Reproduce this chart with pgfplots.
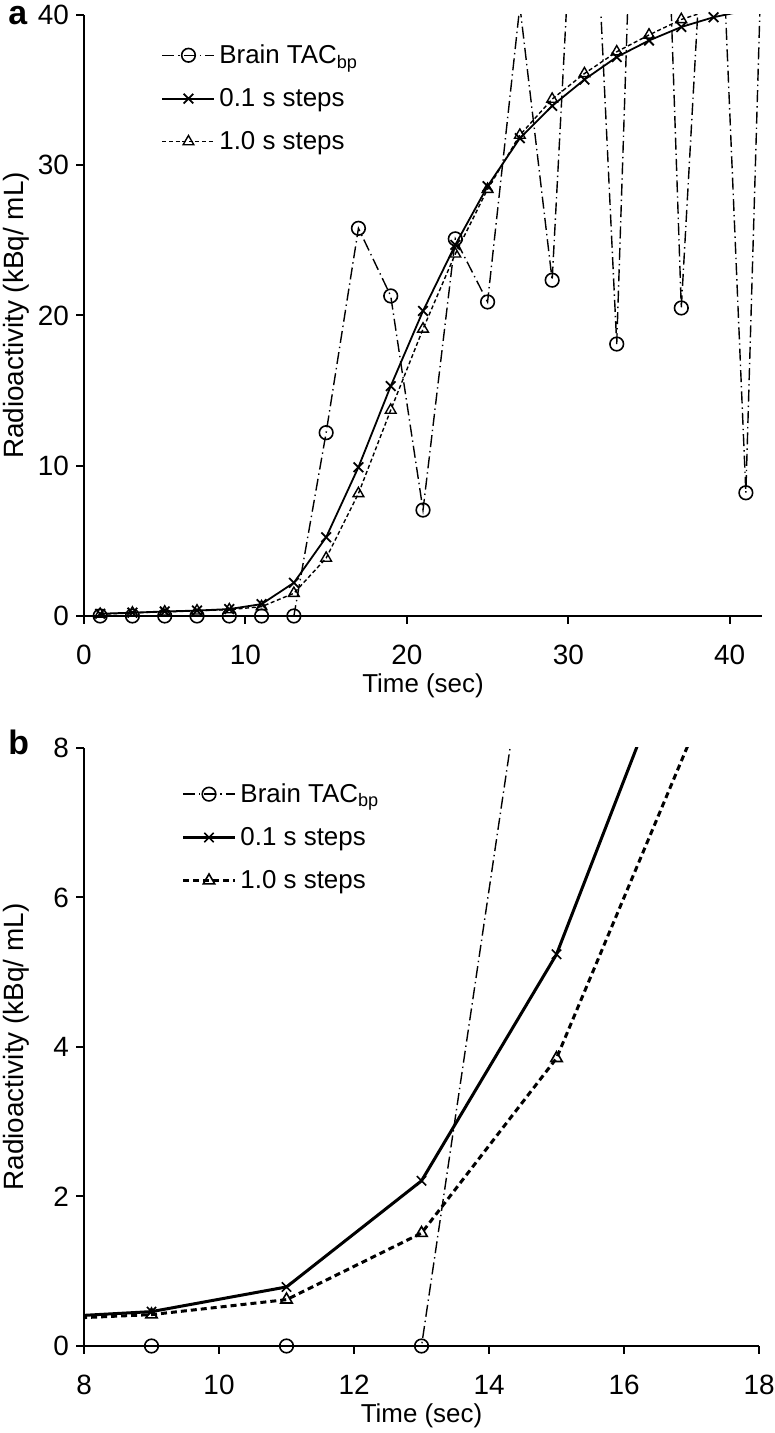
\documentclass[border=0pt]{standalone}
\usepackage{fontspec}
\setmainfont{Liberation Sans}
\usepackage{pgfplots}
\usepackage{pgfplotstable}
\pgfplotsset{compat=1.18}

\pgfplotstableread{
t v
1 0
3 0
5 0
7 0
9 0
11 0
13 0
15 12.2
17 25.8
19 21.3
21 7.05
23 25.1
25 20.9
27 40.6
29 22.35
31 63
33 18.1
35 84
37 20.5
39 59
41 8.2
43 82
}\tac

\pgfplotstableread{
t v
1 0.15
3 0.22
5 0.3
7 0.36
9 0.46
11 0.79
13 2.21
15 5.24
17 9.9
19 15.3
21 20.3
23 24.7
25 28.6
27 31.8
29 33.95
31 35.7
33 37.2
35 38.3
37 39.2
39 39.85
41 40.3
}\fine

\pgfplotstableread{
t v
1 0.12
3 0.2
5 0.27
7 0.34
9 0.42
11 0.62
13 1.51
15 3.85
17 8.15
19 13.7
21 19.1
23 24.1
25 28.4
27 32.0
29 34.4
31 36.1
33 37.55
35 38.67
37 39.7
39 40.4
}\coarse

\pgfplotstableread{
t v
9 0
11 0
13 0
15 12.2
}\tacb

\pgfplotsset{
  panel/.style={
    scale only axis, axis lines*=left, tick align=outside, major tick length=4bp,
    axis line style={line width=1bp},
    tick style={line width=1bp, black},
    every tick label/.append style={font=\fontsize{14}{16}\selectfont},
    xticklabel style={yshift=-7bp},
    /pgf/number format/assume math mode=true,
    xlabel style={font=\fontsize{13}{15}\selectfont, at={(axis description cs:0.5,0)}, anchor=north, inner sep=0pt, yshift=-28.5bp},
    ylabel style={font=\fontsize{14}{16}\selectfont, at={([xshift=-34bp]axis description cs:0,0.5)}, anchor=center, inner sep=0pt},
    legend style={draw=none, fill=none, font=\fontsize{13}{15}\selectfont, row sep=7bp, anchor=north west},
    legend cell align=left,
    legend image code/.code={\draw[mark repeat=2,mark phase=2,##1] plot coordinates {(0bp,0bp) (13bp,0bp) (26bp,0bp)};},
  },
  tacst/.style={black, line width=0.7bp, dash pattern=on 6bp off 2bp on 0.7bp off 2bp, mark=o, mark size=3.4bp, mark options={solid, line width=0.8bp}},
}

\begin{document}
\begin{tikzpicture}[x=1bp,y=1bp]
\path[use as bounding box] (0,0) rectangle (387,716.5);

\begin{axis}[panel,
  at={(42bp,408.5bp)}, anchor=south west,
  width=339bp, height=300.5bp,
  xmin=0, xmax=42, ymin=0, ymax=40,
  xtick={0,10,20,30,40}, ytick={0,10,20,30,40},
  xlabel={Time (sec)}, ylabel={Radioactivity (kBq/ mL)},
  legend style={at={(0.105,0.965)}},
]
\addplot[tacst] table[x=t,y=v]{\tac};
\addlegendentry{Brain TAC\textsubscript{bp}}
\addplot[black, line width=0.9bp, mark=x, mark size=3.4bp, mark options={solid}] table[x=t,y=v]{\fine};
\addlegendentry{0.1 s steps}
\addplot[black, line width=0.7bp, dash pattern=on 2bp off 1.3bp, mark=triangle, mark size=3.1bp, mark options={solid}] table[x=t,y=v]{\coarse};
\addlegendentry{1.0 s steps}
\end{axis}

\begin{axis}[panel,
  at={(42bp,43.5bp)}, anchor=south west,
  width=337.5bp, height=299bp,
  xmin=8, xmax=18, ymin=0, ymax=8,
  xtick={8,10,12,14,16,18}, ytick={0,2,4,6,8},
  xlabel={Time (sec)}, ylabel={Radioactivity (kBq/ mL)},
  legend style={at={(0.135,0.955)}},
]
\addplot[tacst] table[x=t,y=v]{\tacb};
\addlegendentry{Brain TAC\textsubscript{bp}}
\addplot[black, line width=1.5bp, mark=x, mark size=3.3bp, mark options={solid, line width=0.8bp}] table[x=t,y=v]{\fine};
\addlegendentry{0.1 s steps}
\addplot[black, line width=1.5bp, dash pattern=on 3bp off 2bp, mark=triangle, mark size=3.3bp, mark options={solid, line width=0.8bp}] table[x=t,y=v]{\coarse};
\addlegendentry{1.0 s steps}
\end{axis}

\node[anchor=base west, inner sep=0, font=\bfseries\fontsize{17}{19}\selectfont] at (4,704) {a};
\node[anchor=base west, inner sep=0, font=\bfseries\fontsize{17}{19}\selectfont] at (4,339) {b};
\end{tikzpicture}
\end{document}
